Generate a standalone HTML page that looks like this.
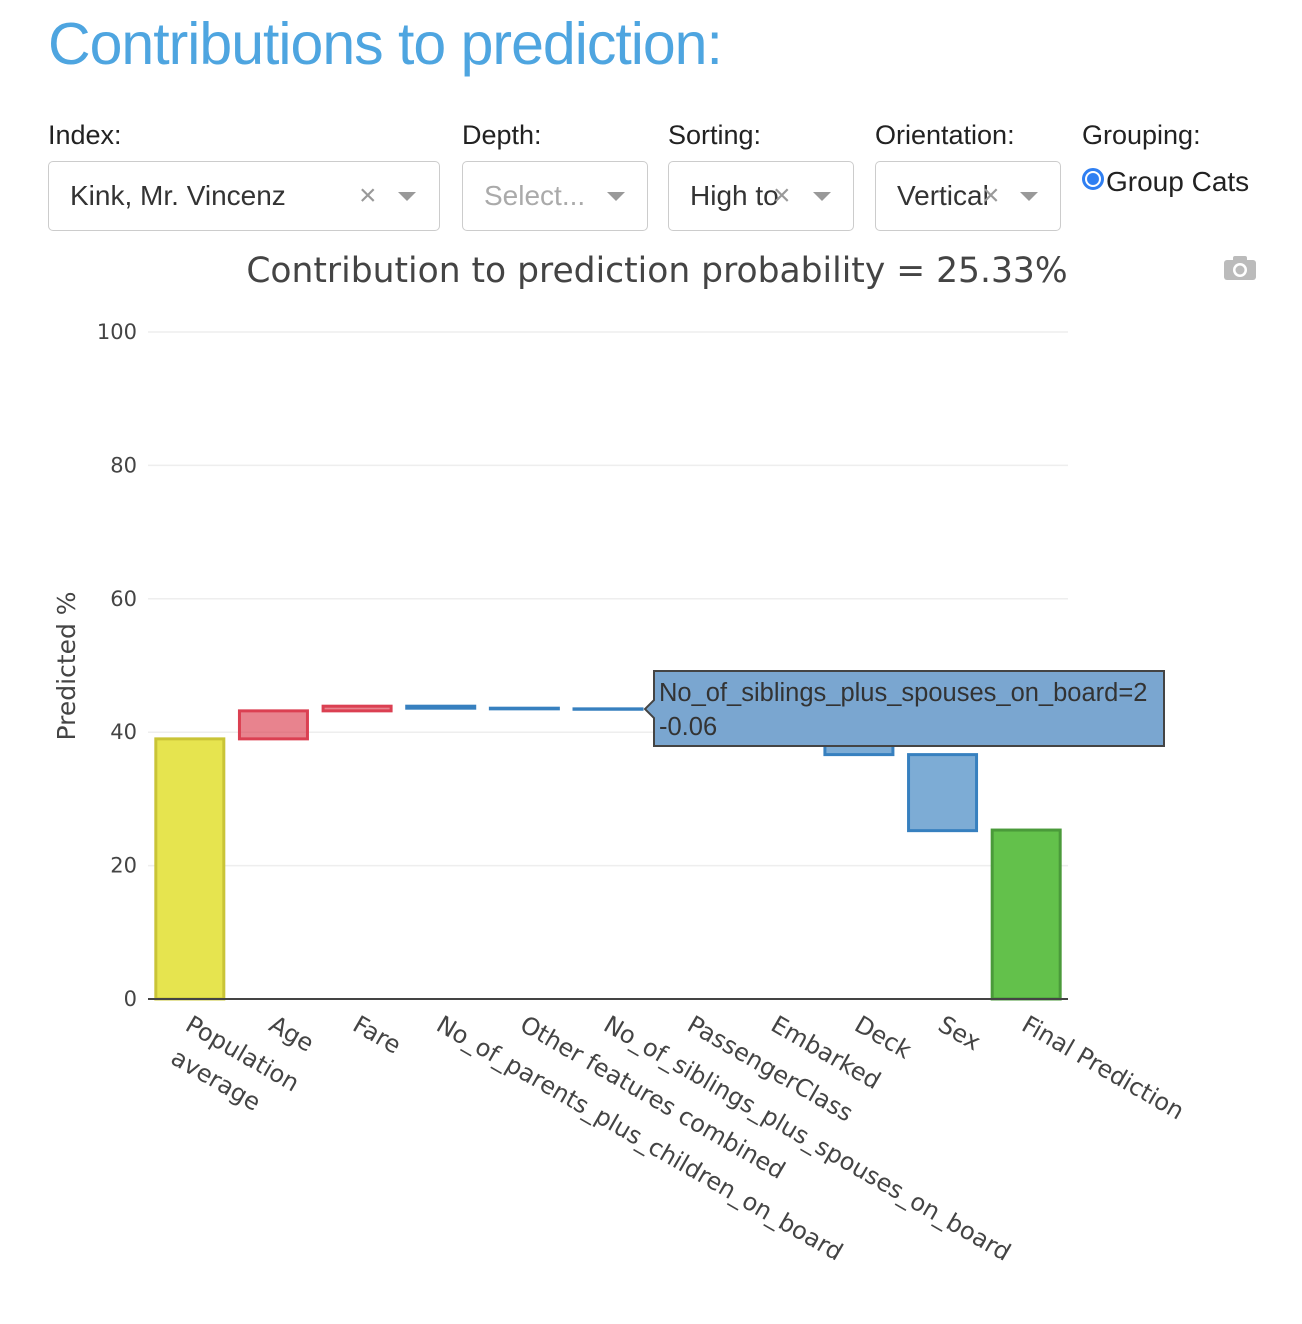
<!DOCTYPE html>
<html><head><meta charset="utf-8"><style>
body{margin:0;width:1302px;height:1324px;background:#fff;font-family:"Liberation Sans",sans-serif;position:relative;overflow:hidden}
.abs{position:absolute}
h1{position:absolute;left:48px;top:10px;margin:0;font-weight:400;font-size:59px;color:#4ea5e0;letter-spacing:-1px}
.lab{position:absolute;top:120px;font-size:27px;color:#222}
.dd{position:absolute;top:161px;height:70px;border:1px solid #ccc;border-radius:5px;box-sizing:border-box;font-size:28px;color:#333;line-height:68px;padding-left:21px;white-space:nowrap;overflow:hidden}
.arr{position:absolute;top:30px;width:0;height:0;border-left:9px solid transparent;border-right:9px solid transparent;border-top:9px solid #999}
.x{position:absolute;color:#999;font-size:30px}
</style></head><body>
<h1>Contributions to prediction:</h1>
<div class="lab" style="left:48px">Index:</div>
<div class="lab" style="left:462px">Depth:</div>
<div class="lab" style="left:668px">Sorting:</div>
<div class="lab" style="left:875px">Orientation:</div>
<div class="lab" style="left:1082px">Grouping:</div>
<div class="dd" style="left:48px;width:392px">Kink, Mr. Vincenz<span class="x" style="left:310px">×</span><span class="arr" style="left:349px"></span></div>
<div class="dd" style="left:462px;width:186px;color:#aaa">Select...<span class="arr" style="left:144px"></span></div>
<div class="dd" style="left:668px;width:186px">High to<span class="x" style="left:104px">×</span><span class="arr" style="left:144px"></span></div>
<div class="dd" style="left:875px;width:186px">Vertical<span class="x" style="left:106px">×</span><span class="arr" style="left:144px"></span></div>
<div class="abs" style="left:1082px;top:166px;font-size:28px;color:#222"><span style="display:inline-block;width:22px;height:22px;border-radius:50%;border:3px solid #2f7ff2;background:radial-gradient(#2f7ff2 50%,#fff 56%);box-sizing:border-box;vertical-align:1px;margin-right:2px"></span>Group Cats</div>
<svg class="abs" style="left:1222px;top:254px" width="36" height="28"><rect x="2" y="6" width="32" height="20" rx="3" fill="#bbb"/><rect x="11" y="2" width="14" height="6" rx="2" fill="#bbb"/><circle cx="18" cy="16" r="7" fill="#fff"/><circle cx="18" cy="16" r="4.5" fill="#bbb"/></svg>
<svg id="chart" class="abs" style="left:0;top:0" width="1302" height="1324" font-family="'DejaVu Sans',sans-serif"></svg>
<script>
const categories=["Population average","Age","Fare","No_of_parents_plus_children_on_board","Other features combined","No_of_siblings_plus_spouses_on_board","PassengerClass","Embarked","Deck","Sex","Final Prediction"];
const contributions=[39.0,4.2,0.7,-0.3,-0.1,-0.06,-2.9,-2.5,-1.4,-11.4];
const finalValue=25.33;
const yTicks=[0,20,40,60,80,100];
const svg=document.getElementById('chart');
const NS='http://www.w3.org/2000/svg';
const x0=148,x1=1068,y0=999,ppu=6.67;
const y=v=>y0-v*ppu;
const step=(x1-x0)/categories.length;
const cx=i=>x0+step*(i+0.5);
const bw=68;
function mk(t,a){const e=document.createElementNS(NS,t);for(const k in a)e.setAttribute(k,a[k]);svg.appendChild(e);return e;}
mk('text',{x:657,y:282,'font-size':34.5,fill:'#444','text-anchor':'middle'}).textContent='Contribution to prediction probability = 25.33%';
yTicks.forEach(t=>{
 if(t>0){const g=mk('line',{x1:x0,x2:x1,y1:y(t),y2:y(t),stroke:'#eee','stroke-width':1.5});}
 const l=mk('text',{x:137,y:y(t)+7,'font-size':21,fill:'#444','text-anchor':'end'});l.textContent=t;
 
});
const yt=mk('text',{x:0,y:0,'font-size':25,fill:'#444','text-anchor':'middle',transform:'translate(75,666) rotate(-90)'});yt.textContent='Predicted %';

let cum=0;
const bars=[];
contributions.forEach((c,i)=>{let lo,hi;if(i==0){lo=0;hi=c;}else{lo=Math.min(cum,cum+c);hi=Math.max(cum,cum+c);}cum+=c;
 let fill,st;if(i==0){fill='#e6e44f';st='#c9c437';}else if(c>=0){fill='rgba(219,64,82,0.65)';st='rgb(219,64,82)';}else{fill='rgba(55,128,191,0.65)';st='rgb(55,128,191)';}
 bars.push([lo,hi,fill,st]);});
bars.push([0,finalValue,'#63c14b','#4a9a3a']);
bars.forEach((b,i)=>{const h=Math.max(y(b[0])-y(b[1]),0.1);
 const r=mk('rect',{x:cx(i)-bw/2,y:y(b[1]),width:bw,height:h,fill:b[2],stroke:b[3],'stroke-width':3});
 
 
 const lines=i==0?['Population','average']:[categories[i]];
 const tx=mk('text',{x:0,y:0,'font-size':24,fill:'#444',transform:`translate(${cx(i)-3},${y0+25}) rotate(30)`});
 lines.forEach((s,k)=>{const ts=document.createElementNS(NS,'tspan');ts.setAttribute('x',k?4:0);ts.setAttribute('dy',k?36:6);ts.textContent=s;tx.appendChild(ts);});
 
});
const ax=mk('line',{x1:x0,x2:x1,y1:y0,y2:y0,stroke:'#444','stroke-width':2});

const tipY=y((bars[5][0]+bars[5][1])/2);
const tp=mk('path',{d:`M654,671 H1164 V746 H654 V${tipY+9} L645,${tipY} L654,${tipY-9} Z`,fill:'#7aa6d0',stroke:'#444','stroke-width':2});

const t1=mk('text',{x:659,y:701,'font-size':25.5,fill:'#333','font-family':'Liberation Sans,sans-serif'});t1.textContent=categories[5]+'=2';
const t2=mk('text',{x:659,y:735,'font-size':25.5,fill:'#333','font-family':'Liberation Sans,sans-serif'});t2.textContent=contributions[5].toFixed(2);
</script>
</body></html>
